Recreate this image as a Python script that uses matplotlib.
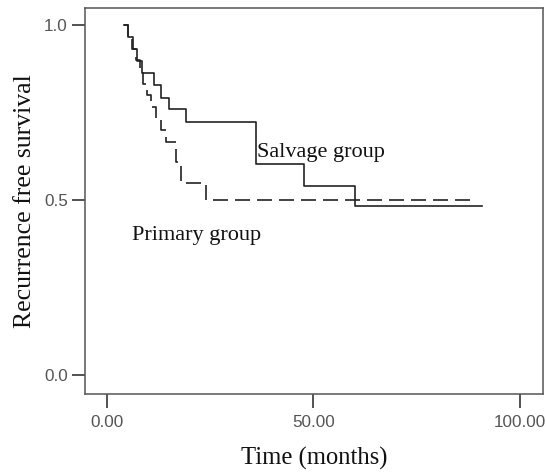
import matplotlib
matplotlib.use("Agg")
import matplotlib.pyplot as plt

# Salvage group (solid) Kaplan-Meier steps: value holds from each time onward
salvage_time = [4.2, 5.0, 6.3, 7.3, 8.5, 11.4, 13.0, 15.0, 19.1, 36.1, 47.8, 60.0, 90.8]
salvage_surv = [1.0, 0.966, 0.931, 0.897, 0.862, 0.828, 0.793, 0.759, 0.724, 0.603, 0.540, 0.483, 0.483]

# Primary group (dashed)
primary_time = [4.2, 5.0, 6.0, 7.0, 8.0, 8.7, 9.8, 10.6, 12.0, 13.2, 14.2, 16.7, 18.0, 24.0, 88.0]
primary_surv = [1.0, 0.967, 0.933, 0.900, 0.867, 0.833, 0.800, 0.767, 0.733, 0.700, 0.667, 0.609, 0.549, 0.500, 0.500]

x_ticks = [0, 50, 100]
x_tick_labels = ["0.00", "50.00", "100.00"]
y_ticks = [0.0, 0.5, 1.0]
y_tick_labels = ["0.0", "0.5", "1.0"]

serif = ["Liberation Serif", "DejaVu Serif"]
tickfont = ["Liberation Sans", "DejaVu Sans"]

fig = plt.figure(figsize=(5.46, 4.72), dpi=100)
ax = fig.add_axes([85/546, 1-394/472, (543-85)/546, (394-8)/472])

line_col = "#222222"
ax.step(salvage_time, salvage_surv, where="post", color=line_col, lw=1.2)
ax.step(primary_time, primary_surv, where="post", color=line_col, lw=1.2,
        linestyle=(0, (9, 4.2)))

ax.text(36.3, 0.637, "Salvage group", family=serif, fontsize=16, color="#111111",
        ha="left", va="center")
ax.text(6.0, 0.40, "Primary group", family=serif, fontsize=16, color="#111111",
        ha="left", va="center")

ax.set_xlim(-5.3, 105.6)
ax.set_ylim(-0.054, 1.049)
ax.set_xticks(x_ticks)
ax.set_xticklabels(x_tick_labels, family=tickfont, fontsize=12.3, color="#555555")
ax.set_yticks(y_ticks)
ax.set_yticklabels(y_tick_labels, family=tickfont, fontsize=12.3, color="#555555")
ax.tick_params(axis="x", direction="out", length=10, width=1.3, color="#444444", pad=5)
ax.tick_params(axis="y", direction="out", length=9.5, width=1.3, color="#444444", pad=3)

for s in ax.spines.values():
    s.set_color("#555555")
    s.set_linewidth(1.1)

ax.set_xlabel("Time (months)", family=serif, fontsize=17.7, color="#111111", labelpad=12)
ax.set_ylabel("Recurrence free survival", family=serif, fontsize=18.5, color="#111111", labelpad=6)

fig.savefig("out.png", dpi=100)
